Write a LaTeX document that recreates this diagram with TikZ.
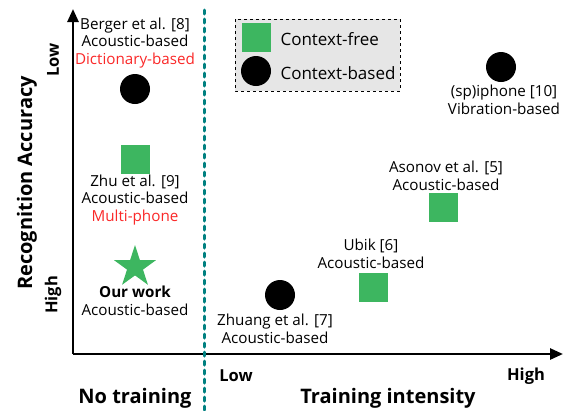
\documentclass[tikz,border=0pt]{standalone}
\usepackage{fontspec}
\setmainfont{Open Sans}
\usetikzlibrary{arrows.meta,shapes.geometric}

\definecolor{ptgreen}{RGB}{61,182,96}
\definecolor{ptred}{RGB}{250,40,40}
\definecolor{septeal}{RGB}{0,128,128}
\definecolor{legfill}{RGB}{230,230,230}

\tikzset{
  axis/.style={line width=2.6pt, -{Triangle[length=13pt,width=11pt]}},
  ctxfree/.style={fill=ptgreen, minimum size=29pt, inner sep=0pt},
  ctxbased/.style={circle, fill=black, minimum size=30pt, inner sep=0pt},
  lbl/.style={align=center, font=\fontsize{15.2}{17.5}\selectfont},
  leglbl/.style={anchor=west, font=\fontsize{17}{20}\selectfont},
  axlbl/.style={font=\bfseries\fontsize{16.5}{20}\selectfont},
  bigaxlbl/.style={font=\bfseries\fontsize{20}{24}\selectfont}
}

\begin{document}
\begin{tikzpicture}[x=1pt, y=-1pt]
\useasboundingbox (0,0) rectangle (564,410);
% axes
\coordinate (o) at (73,354);
\coordinate (ytop) at (73,9);
\coordinate (xend) at (563,354);
\draw[axis] (o) -- (ytop);
\draw[axis] (o) -- (xend);
% separator
\coordinate (septop) at (204,10);
\coordinate (sepbot) at (204,412);
\draw[septeal, line width=3pt, line cap=round, dash pattern=on 4pt off 5pt] (septop) -- (sepbot);
% axis labels
\node[bigaxlbl, rotate=90] (yname) at (27,183) {Recognition Accuracy};
\node[axlbl, rotate=90] (ylow) at (53,60) {Low};
\node[axlbl, rotate=90] (yhigh) at (53,295) {High};
\node[axlbl] (xlow) at (236,376) {Low};
\node[axlbl] (xhigh) at (526,376) {High};
\node[bigaxlbl] (notrain) at (135,398) {No training};
\node[bigaxlbl] (trainint) at (388,398) {Training intensity};
% legend
\draw[dashed, line width=1pt, fill=legfill] (235,19) rectangle (400,91);
\node[ctxfree] (legsq) at (256,37) {};
\node[ctxbased] (legci) at (256,71) {};
\node[leglbl] (legsqtxt) at (277,39) {Context-free};
\node[leglbl] (legcitxt) at (277,73) {Context-based};
% Berger et al.
\node[lbl] (berger) at (135,43) {Berger et al. [8]\\Acoustic-based\\\textcolor{ptred}{Dictionary-based}};
\node[ctxbased] (bergerpt) at (135,89) {};
% Zhu et al.
\node[ctxfree] (zhupt) at (135,159) {};
\node[lbl] (zhu) at (135,200) {Zhu et al. [9]\\Acoustic-based\\\textcolor{ptred}{Multi-phone}};
% our work
\node[star, star points=5, star point ratio=2.618, fill=ptgreen, minimum size=44pt, inner sep=0pt] (ourpt) at (135,267) {};
\node[lbl] (our) at (135,301) {\textbf{Our work}\\Acoustic-based};
% Zhuang et al.
\node[ctxbased] (zhuangpt) at (280,295) {};
\node[lbl] (zhuang) at (275,329) {Zhuang et al. [7]\\Acoustic-based};
% Ubik
\node[ctxfree] (ubikpt) at (373,287) {};
\node[lbl] (ubik) at (371,254) {Ubik [6]\\Acoustic-based};
% Asonov et al.
\node[ctxfree] (asonovpt) at (443,207) {};
\node[lbl] (asonov) at (446,176) {Asonov et al. [5]\\Acoustic-based};
% (sp)iphone
\node[ctxbased] (iphonept) at (501,67) {};
\node[lbl] (iphone) at (504,100) {(sp)iphone [10]\\Vibration-based};
\end{tikzpicture}
\end{document}
